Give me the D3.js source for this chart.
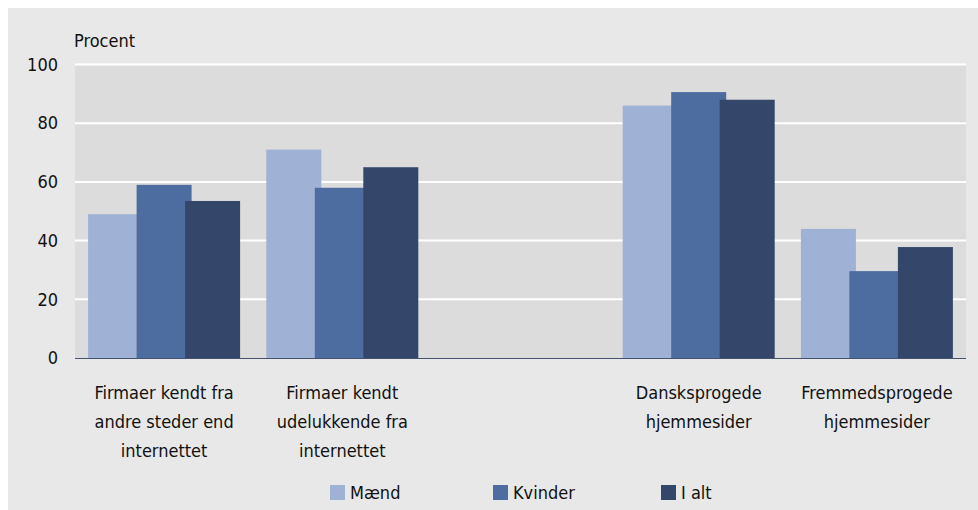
<!DOCTYPE html>
<html>
<head>
<meta charset="utf-8">
<script src="https://cdn.jsdelivr.net/npm/d3@7"></script>
<style>
  body { margin: 0; background: #fff; }
  svg text { font-family: "Liberation Sans Narrow", "DejaVu Sans Condensed", sans-serif; fill: #111; }
</style>
</head>
<body>
<svg id="chart" width="978" height="510"></svg>
<script>
// categories (the empty one keeps the gap in the middle)
const categories = [
  ["Firmaer kendt fra", "andre steder end", "internettet"],
  ["Firmaer kendt", "udelukkende fra", "internettet"],
  [],
  ["Dansksprogede", "hjemmesider"],
  ["Fremmedsprogede", "hjemmesider"],
];
const seriesNames = ["Mænd", "Kvinder", "I alt"];
const maend = [49, 71, null, 86, 44];
const kvinder = [59, 58, null, 90.6, 29.6];
const ialt = [53.5, 65, null, 88, 37.8];
const yTicks = [0, 20, 40, 60, 80, 100];

const colors = ["#9fb1d4", "#4d6ca0", "#34476b"];
const series = [maend, kvinder, ialt];

const svg = d3.select("#chart");
const plotL = 75, plotR = 966, plotT = 64.5, plotB = 358;

svg.append("rect")
  .attr("x", 8).attr("y", 8)
  .attr("width", 970).attr("height", 502)
  .attr("fill", "#e8e8e8");

svg.append("rect")
  .attr("x", plotL).attr("y", plotT)
  .attr("width", plotR - plotL).attr("height", plotB - plotT)
  .attr("fill", "#dcdcdc");

const x = d3.scaleBand()
  .domain(d3.range(categories.length))
  .range([plotL, plotR]);

const y = d3.scaleLinear().domain([0, 100]).range([plotB, plotT]);

// gridlines
svg.append("g")
  .selectAll("line")
  .data(yTicks.filter(d => d > 0))
  .join("line")
  .attr("x1", plotL).attr("x2", plotR)
  .attr("y1", d => y(d)).attr("y2", d => y(d))
  .attr("stroke", "#fff")
  .attr("stroke-width", 2);

// y axis labels
const yAxis = svg.append("g")
  .attr("transform", `translate(${plotL},0)`)
  .call(d3.axisLeft(y).tickValues(yTicks).tickSize(0).tickPadding(17));
yAxis.select(".domain").remove();
yAxis.selectAll("text")
  .style("font-size", "18px")
  .attr("fill", "#111");

svg.append("text")
  .attr("x", 74).attr("y", 47)
  .style("font-size", "18px")
  .text("Procent");

// bars: each bar slightly overlaps the previous one
const groupW = 152, barW = 55, step = (groupW - barW) / 2;
series.forEach((vals, s) => {
  svg.append("g")
    .selectAll("rect")
    .data(vals.map((v, i) => ({ v, i })).filter(d => d.v != null))
    .join("rect")
    .attr("x", d => x(d.i) + x.bandwidth() / 2 - groupW / 2 + s * step)
    .attr("y", d => y(d.v))
    .attr("width", barW)
    .attr("height", d => plotB - y(d.v))
    .attr("fill", colors[s]);
});

// baseline
svg.append("line")
  .attr("x1", plotL).attr("x2", plotR)
  .attr("y1", plotB + 0.5).attr("y2", plotB + 0.5)
  .attr("stroke", "#44536f")
  .attr("stroke-width", 1.2);

// category labels
const catG = svg.append("g");
categories.forEach((lines, i) => {
  const t = catG.append("text")
    .attr("text-anchor", "middle")
    .style("font-size", "18px");
  lines.forEach((ln, j) => {
    t.append("tspan")
      .attr("x", x(i) + x.bandwidth() / 2)
      .attr("y", 399 + j * 29)
      .text(ln);
  });
});

// legend
const legendX = [330, 493, 661];
const legend = svg.append("g");
seriesNames.forEach((name, s) => {
  legend.append("rect")
    .attr("x", legendX[s]).attr("y", 485)
    .attr("width", 15).attr("height", 15)
    .attr("fill", colors[s]);
  legend.append("text")
    .attr("x", legendX[s] + 20).attr("y", 499)
    .style("font-size", "18px")
    .text(name);
});
</script>
</body>
</html>
